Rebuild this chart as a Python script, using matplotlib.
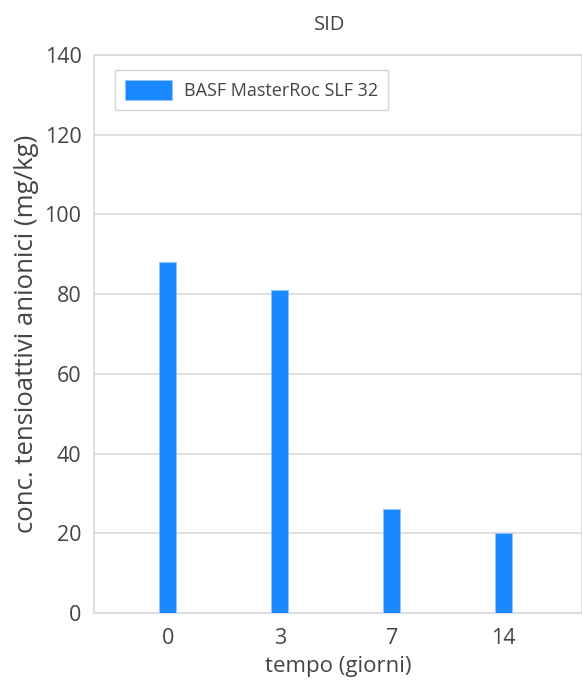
import matplotlib
matplotlib.use("Agg")
import matplotlib.pyplot as plt
import numpy as np

plt.rcParams['font.family'] = ['Open Sans', 'DejaVu Sans']

days = ["0", "3", "7", "14"]
conc = [88, 81, 26, 20]
series_name = "BASF MasterRoc SLF 32"
yticks = [0, 20, 40, 60, 80, 100, 120, 140]

text_c = "#444444"
bar_c = "#1a88ff"
grid_c = "#d9d9d9"

fig = plt.figure(figsize=(5.82, 6.86), dpi=100)
ax = fig.add_axes([94 / 582, 73 / 686, 488 / 582, 558 / 686])

x = np.arange(len(days))
ax.bar(x, conc, width=0.15, color=bar_c, edgecolor="#8fc3ff", linewidth=0.6,
       label=series_name, zorder=3)

ax.set_xlim(-0.66, len(days) - 1 + 0.70)
ax.set_ylim(0, 140)
ax.set_yticks(yticks)
ax.set_xticks(x)
ax.set_xticklabels(days)
ax.tick_params(axis="both", length=0, colors=text_c, labelsize=15.5)
ax.tick_params(axis="x", pad=11)
ax.tick_params(axis="y", pad=9)
ax.yaxis.grid(True, color=grid_c, linewidth=1.2, zorder=0)
ax.set_axisbelow(True)
for s in ax.spines.values():
    s.set_color(grid_c)
    s.set_linewidth(1.2)

ax.set_xlabel("tempo (giorni)", fontsize=16, color=text_c, labelpad=5)
ax.set_ylabel("conc. tensioattivi anionici (mg/kg)", fontsize=18.5, color=text_c, labelpad=4)
ax.set_title("SID", fontsize=14.5, color=text_c, x=0.483, pad=18)

leg = ax.legend(loc="upper left", bbox_to_anchor=(0.043, 0.973), fontsize=13,
                frameon=True, fancybox=False, borderpad=0.55, handlelength=2.6,
                handleheight=1.33, handletextpad=0.67, borderaxespad=0)
leg.get_frame().set_edgecolor("#cccccc")
leg.get_frame().set_linewidth(1.0)
for t in leg.get_texts():
    t.set_color(text_c)

fig.savefig("out.png", dpi=100)
